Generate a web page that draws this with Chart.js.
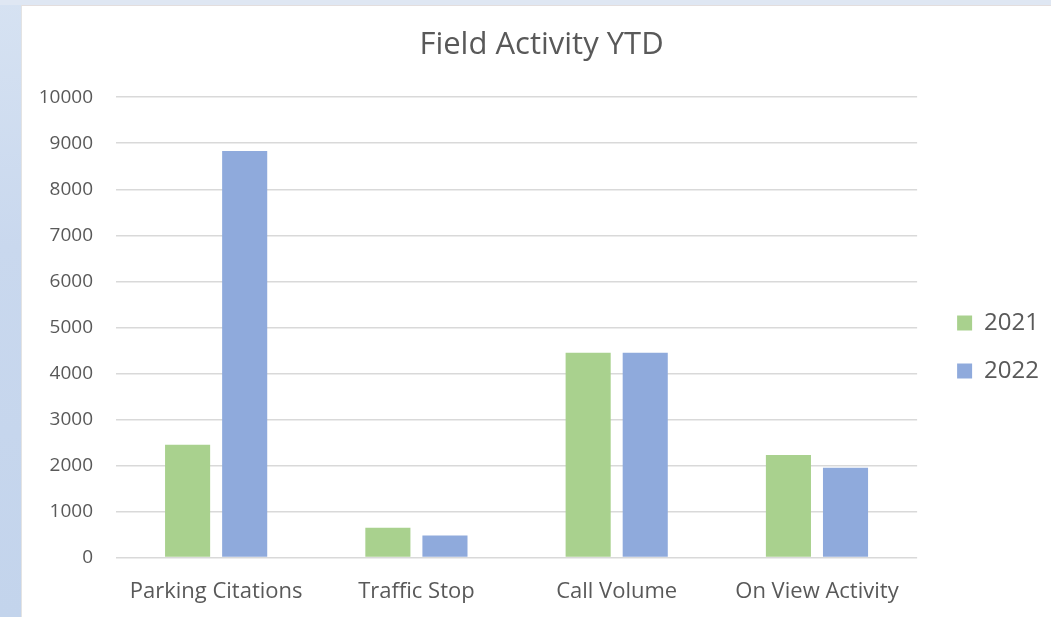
<!DOCTYPE html>
<html><head><meta charset="utf-8">
<script src="https://cdn.jsdelivr.net/npm/chart.js@4.4.1/dist/chart.umd.min.js"></script>
<style>
html,body{margin:0;padding:0;width:1051px;height:617px;overflow:hidden;
background:linear-gradient(180deg,#d6e2f2 0%,#c9d8ee 40%,#c3d4ec 100%);}
#top{position:absolute;left:0;top:0;width:1051px;height:5px;background:#dfe7f3;}
#wrap{position:absolute;left:21px;top:5px;width:1030px;height:612px;background:#fff;border-left:1px solid #e3e3e3;border-top:1px solid #e3dede;box-sizing:border-box;}
canvas{display:block;}
</style></head><body>
<div id="top"></div>
<div id="wrap"><canvas id="c" width="1030" height="612"></canvas></div>
<script>
const categories = ["Parking Citations","Traffic Stop","Call Volume","On View Activity"];
const series2021 = [2450, 650, 4450, 2230];
const series2022 = [8830, 480, 4450, 1950];
const seriesNames = ["2021","2022"];
const yTicks = [0,1000,2000,3000,4000,5000,6000,7000,8000,9000,10000];

const FONT = "'Open Sans', Lato, sans-serif";
const TXT = "#595959";
const boxShift = {
  id:'boxShift',
  afterLayout(chart){
    const l = chart.legend;
    if(l){ const dx = 16, dy = 35; l.left += dx; l.right += dx; l.top += dy; l.bottom += dy; }
    const t = chart.titleBlock;
    if(t){ const tx = 14; t.left += tx; t.right += tx; }
  }
};
new Chart(document.getElementById('c'), {
  type:'bar',
  data:{labels:categories, datasets:[
    {label:seriesNames[0], data:series2021, backgroundColor:'#a9d18e', borderWidth:0},
    {label:seriesNames[1], data:series2022, backgroundColor:'#8faadc', borderWidth:0}
  ]},
  options:{
    responsive:false, animation:false,
    categoryPercentage:0.57, barPercentage:0.79,
    layout:{padding:{top:0,left:0,right:19,bottom:0}},
    plugins:{
      title:{display:true,text:'Field Activity YTD',color:TXT,font:{family:FONT,size:31,weight:'normal'},padding:{top:21,bottom:33}},
      legend:{position:'right',align:'center',labels:{color:TXT,font:{family:FONT,size:24},boxWidth:15,boxHeight:15,padding:24}},
      tooltip:{enabled:false}
    },
    scales:{
      x:{grid:{display:false},border:{display:false},
         ticks:{color:TXT,font:{family:FONT,size:22},padding:13}},
      y:{min:0,max:10000,
         afterFit:(s)=>{s.width=94;},
         afterBuildTicks:(s)=>{s.ticks=yTicks.map(v=>({value:v}));},
         grid:{color:'#d9d9d9',lineWidth:1.5,drawTicks:false},border:{display:false},
         ticks:{color:TXT,font:{family:FONT,size:19},padding:23,callback:(v)=>String(v)}}
    }
  },
  plugins:[boxShift]
});
</script>
</body></html>
